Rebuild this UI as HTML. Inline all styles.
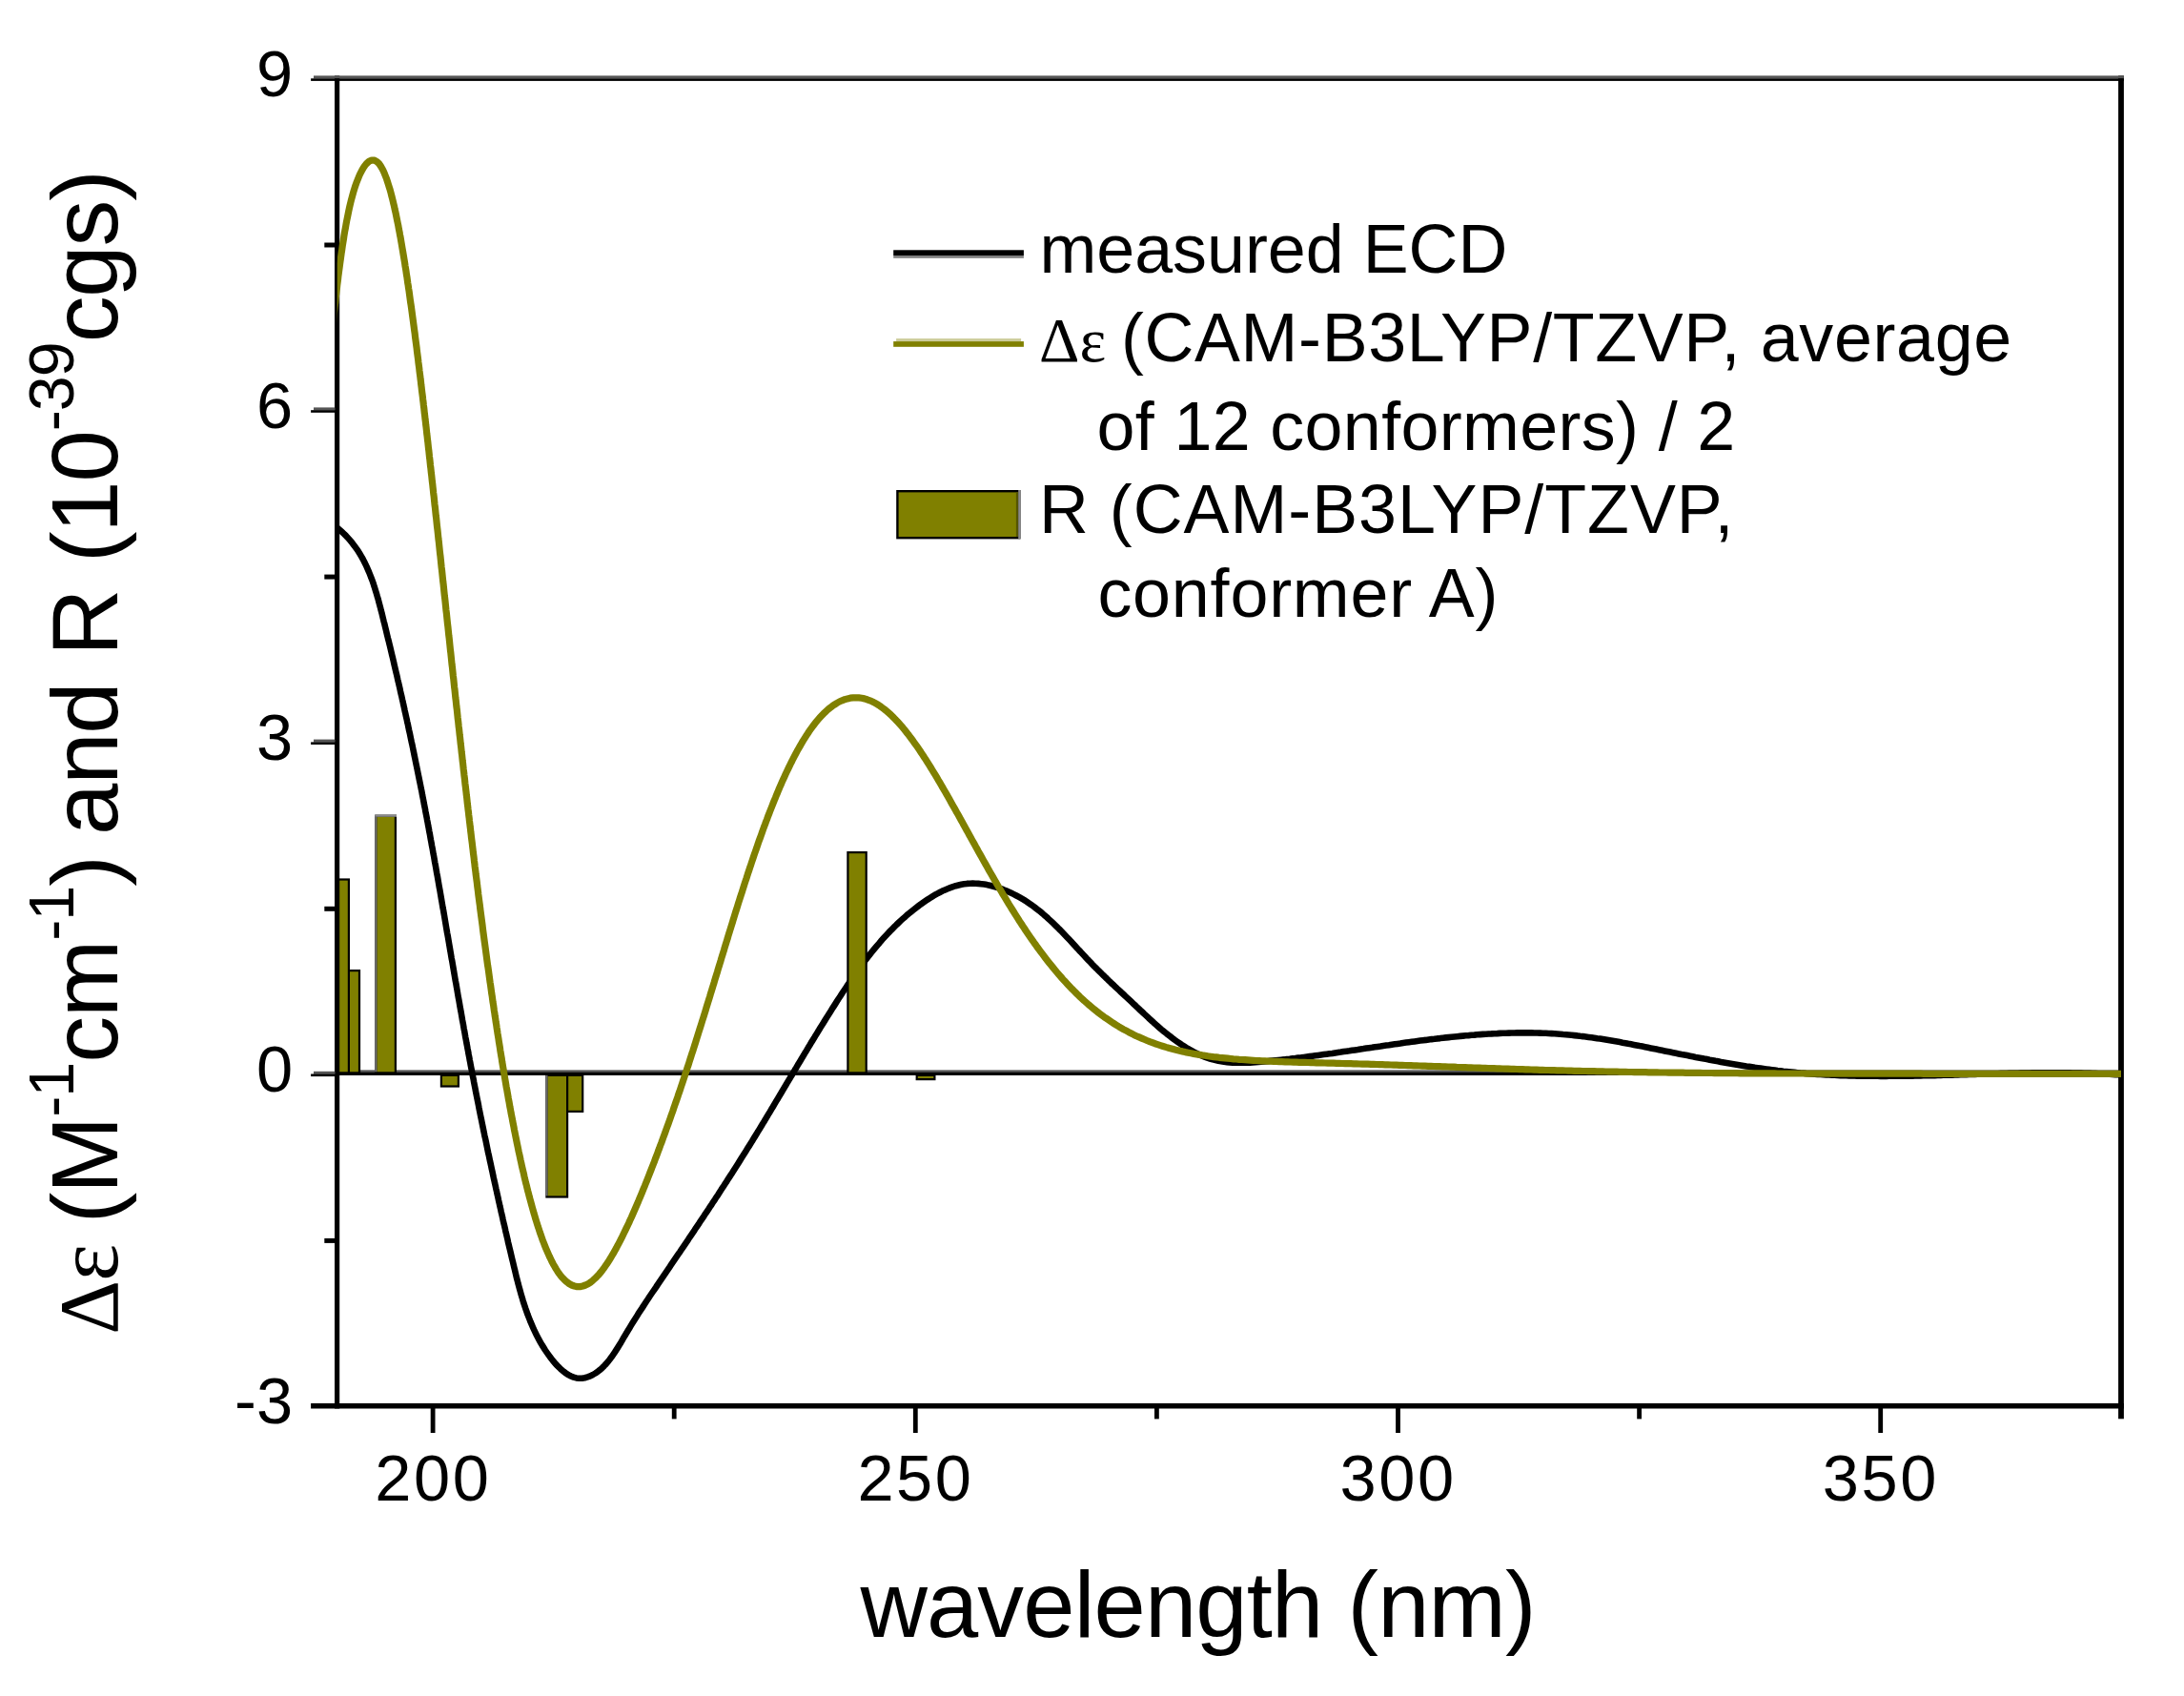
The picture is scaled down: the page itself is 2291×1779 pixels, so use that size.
<!DOCTYPE html><html><head><meta charset="utf-8"><title>ECD spectrum</title>
<style>html,body{margin:0;padding:0;background:#fff}svg{display:block}text{font-family:"Liberation Sans",sans-serif;fill:#000}.sy{font-family:"Liberation Serif",serif}</style></head><body>
<svg width="2291" height="1779" viewBox="0 0 2291 1779">
<rect width="2291" height="1779" fill="#fff"/>
<defs><clipPath id="pc"><rect x="353.7" y="82" width="1871.3" height="1392.7"/></clipPath></defs>
<rect x="353.7" y="1122.4" width="1871.3" height="2.4" fill="#555"/>
<path d="M347.4,548.3 L349.6,550.3 L351.9,552.2 L354.2,554.1 L356.5,556.1 L358.8,558.1 L361.0,560.1 L363.1,562.2 L365.1,564.4 L367.1,566.7 L369.1,569.0 L370.9,571.4 L372.7,573.8 L374.4,576.2 L376.1,578.7 L377.7,581.3 L379.2,583.9 L380.7,586.5 L382.1,589.2 L383.4,591.9 L384.7,594.6 L385.9,597.3 L387.1,600.1 L388.2,602.9 L389.3,605.7 L390.4,608.5 L391.4,611.3 L392.3,614.2 L393.2,617.0 L394.1,619.9 L395.0,622.8 L395.8,625.7 L396.7,628.6 L397.4,631.4 L398.2,634.4 L399.0,637.3 L399.7,640.2 L400.5,643.1 L401.2,646.0 L401.9,648.9 L402.6,651.8 L403.4,654.7 L404.1,657.7 L404.8,660.6 L405.5,663.5 L406.2,666.4 L406.9,669.3 L407.7,672.3 L408.4,675.2 L409.1,678.1 L409.8,681.0 L410.5,683.9 L411.2,686.9 L411.9,689.8 L412.6,692.7 L413.2,695.6 L413.9,698.6 L414.6,701.5 L415.3,704.4 L416.0,707.3 L416.7,710.3 L417.3,713.2 L418.0,716.1 L418.7,719.1 L419.4,722.0 L420.0,724.9 L420.7,727.9 L421.4,730.8 L422.0,733.7 L422.7,736.6 L423.3,739.6 L424.0,742.5 L424.6,745.4 L425.3,748.4 L425.9,751.3 L426.6,754.2 L427.2,757.2 L427.9,760.1 L428.5,763.1 L429.1,766.0 L429.8,768.9 L430.4,771.9 L431.0,774.8 L431.6,777.7 L432.3,780.7 L432.9,783.6 L433.5,786.6 L434.1,789.5 L434.7,792.5 L435.3,795.4 L435.9,798.3 L436.5,801.3 L437.1,804.2 L437.7,807.2 L438.3,810.1 L438.9,813.1 L439.5,816.0 L440.1,819.0 L440.7,821.9 L441.3,824.9 L441.9,827.8 L442.5,830.7 L443.0,833.7 L443.6,836.6 L444.2,839.6 L444.7,842.5 L445.3,845.5 L445.9,848.4 L446.4,851.4 L447.0,854.4 L447.6,857.3 L448.1,860.3 L448.7,863.2 L449.2,866.2 L449.8,869.1 L450.3,872.1 L450.9,875.0 L451.4,878.0 L451.9,880.9 L452.5,883.9 L453.0,886.9 L453.6,889.8 L454.1,892.8 L454.6,895.7 L455.2,898.7 L455.7,901.6 L456.2,904.6 L456.8,907.6 L457.3,910.5 L457.8,913.5 L458.3,916.4 L458.9,919.4 L459.4,922.4 L459.9,925.3 L460.4,928.3 L460.9,931.2 L461.5,934.2 L462.0,937.2 L462.5,940.1 L463.0,943.1 L463.5,946.0 L464.0,949.0 L464.5,952.0 L465.1,954.9 L465.6,957.9 L466.1,960.8 L466.6,963.8 L467.1,966.8 L467.6,969.7 L468.1,972.7 L468.6,975.6 L469.1,978.6 L469.7,981.6 L470.2,984.5 L470.7,987.5 L471.2,990.5 L471.7,993.4 L472.2,996.4 L472.7,999.3 L473.2,1002.3 L473.7,1005.3 L474.3,1008.2 L474.8,1011.2 L475.3,1014.1 L475.8,1017.1 L476.3,1020.1 L476.8,1023.0 L477.3,1026.0 L477.8,1028.9 L478.4,1031.9 L478.9,1034.9 L479.4,1037.8 L479.9,1040.8 L480.4,1043.7 L480.9,1046.7 L481.5,1049.7 L482.0,1052.6 L482.5,1055.6 L483.0,1058.5 L483.6,1061.5 L484.1,1064.5 L484.6,1067.4 L485.1,1070.4 L485.7,1073.3 L486.2,1076.3 L486.7,1079.3 L487.3,1082.2 L487.8,1085.2 L488.3,1088.1 L488.9,1091.1 L489.4,1094.0 L490.0,1097.0 L490.5,1099.9 L491.1,1102.9 L491.6,1105.9 L492.2,1108.8 L492.7,1111.8 L493.3,1114.7 L493.8,1117.7 L494.4,1120.6 L495.0,1123.6 L495.5,1126.5 L496.1,1129.5 L496.7,1132.4 L497.2,1135.4 L497.8,1138.3 L498.4,1141.3 L498.9,1144.2 L499.5,1147.2 L500.1,1150.1 L500.7,1153.1 L501.3,1156.0 L501.9,1159.0 L502.4,1161.9 L503.0,1164.9 L503.6,1167.8 L504.2,1170.8 L504.8,1173.7 L505.4,1176.6 L506.0,1179.6 L506.6,1182.5 L507.2,1185.5 L507.8,1188.4 L508.4,1191.4 L509.1,1194.3 L509.7,1197.2 L510.3,1200.2 L510.9,1203.1 L511.5,1206.1 L512.1,1209.0 L512.8,1211.9 L513.4,1214.9 L514.0,1217.8 L514.7,1220.8 L515.3,1223.7 L515.9,1226.6 L516.6,1229.6 L517.2,1232.5 L517.8,1235.4 L518.5,1238.4 L519.1,1241.3 L519.8,1244.3 L520.4,1247.2 L521.1,1250.1 L521.7,1253.1 L522.4,1256.0 L523.0,1258.9 L523.7,1261.9 L524.3,1264.8 L525.0,1267.7 L525.6,1270.7 L526.3,1273.6 L527.0,1276.5 L527.6,1279.4 L528.3,1282.4 L529.0,1285.3 L529.7,1288.2 L530.3,1291.2 L531.0,1294.1 L531.7,1297.0 L532.4,1299.9 L533.0,1302.9 L533.7,1305.8 L534.4,1308.7 L535.1,1311.6 L535.8,1314.6 L536.5,1317.5 L537.2,1320.4 L537.9,1323.3 L538.6,1326.3 L539.3,1329.2 L540.0,1332.1 L540.7,1335.0 L541.4,1337.9 L542.1,1340.9 L542.9,1343.8 L543.6,1346.7 L544.4,1349.6 L545.2,1352.5 L546.0,1355.4 L546.8,1358.3 L547.7,1361.2 L548.5,1364.0 L549.4,1366.9 L550.4,1369.8 L551.3,1372.6 L552.3,1375.4 L553.3,1378.3 L554.4,1381.1 L555.5,1383.9 L556.6,1386.7 L557.8,1389.4 L559.0,1392.2 L560.2,1394.9 L561.5,1397.6 L562.8,1400.3 L564.2,1403.0 L565.6,1405.6 L567.1,1408.3 L568.6,1410.9 L570.2,1413.4 L571.8,1416.0 L573.5,1418.5 L575.2,1420.9 L577.0,1423.4 L578.8,1425.7 L580.7,1428.1 L582.6,1430.4 L584.7,1432.6 L586.8,1434.7 L589.0,1436.8 L591.3,1438.7 L593.7,1440.5 L596.2,1442.1 L598.9,1443.5 L601.7,1444.6 L604.6,1445.4 L607.6,1445.8 L610.6,1445.7 L613.5,1445.2 L616.4,1444.4 L619.2,1443.4 L621.9,1442.0 L624.5,1440.5 L627.0,1438.8 L629.3,1436.9 L631.6,1434.9 L633.7,1432.8 L635.8,1430.6 L637.7,1428.3 L639.6,1426.0 L641.4,1423.6 L643.1,1421.1 L644.8,1418.6 L646.4,1416.1 L648.0,1413.6 L649.6,1411.0 L651.2,1408.4 L652.7,1405.8 L654.2,1403.2 L655.7,1400.7 L657.3,1398.1 L658.8,1395.5 L660.4,1392.9 L661.9,1390.4 L663.5,1387.8 L665.1,1385.2 L666.7,1382.7 L668.3,1380.2 L669.9,1377.6 L671.5,1375.1 L673.2,1372.6 L674.8,1370.1 L676.5,1367.5 L678.1,1365.0 L679.8,1362.5 L681.4,1360.0 L683.1,1357.5 L684.8,1355.0 L686.5,1352.6 L688.2,1350.1 L689.8,1347.6 L691.5,1345.1 L693.2,1342.6 L694.9,1340.1 L696.6,1337.6 L698.3,1335.1 L700.0,1332.7 L701.7,1330.2 L703.3,1327.7 L705.0,1325.2 L706.7,1322.7 L708.4,1320.2 L710.1,1317.7 L711.8,1315.2 L713.5,1312.8 L715.1,1310.3 L716.8,1307.8 L718.5,1305.3 L720.2,1302.8 L721.9,1300.3 L723.5,1297.8 L725.2,1295.3 L726.9,1292.8 L728.6,1290.3 L730.2,1287.8 L731.9,1285.3 L733.6,1282.8 L735.2,1280.3 L736.9,1277.8 L738.6,1275.3 L740.2,1272.8 L741.9,1270.3 L743.6,1267.8 L745.2,1265.3 L746.9,1262.8 L748.5,1260.3 L750.2,1257.8 L751.8,1255.3 L753.5,1252.8 L755.1,1250.2 L756.7,1247.7 L758.4,1245.2 L760.0,1242.7 L761.7,1240.2 L763.3,1237.6 L764.9,1235.1 L766.5,1232.6 L768.2,1230.1 L769.8,1227.5 L771.4,1225.0 L773.0,1222.5 L774.6,1219.9 L776.2,1217.4 L777.8,1214.8 L779.4,1212.3 L781.0,1209.7 L782.6,1207.2 L784.2,1204.6 L785.8,1202.1 L787.4,1199.5 L789.0,1197.0 L790.5,1194.4 L792.1,1191.9 L793.7,1189.3 L795.2,1186.7 L796.8,1184.2 L798.4,1181.6 L799.9,1179.0 L801.5,1176.5 L803.0,1173.9 L804.6,1171.3 L806.1,1168.7 L807.7,1166.2 L809.2,1163.6 L810.8,1161.0 L812.3,1158.4 L813.8,1155.8 L815.4,1153.3 L816.9,1150.7 L818.5,1148.1 L820.0,1145.5 L821.5,1142.9 L823.1,1140.3 L824.6,1137.8 L826.1,1135.2 L827.7,1132.6 L829.2,1130.0 L830.8,1127.4 L832.3,1124.9 L833.8,1122.3 L835.4,1119.7 L836.9,1117.1 L838.5,1114.5 L840.0,1112.0 L841.5,1109.4 L843.1,1106.8 L844.6,1104.2 L846.2,1101.7 L847.7,1099.1 L849.3,1096.5 L850.8,1093.9 L852.4,1091.4 L854.0,1088.8 L855.5,1086.2 L857.1,1083.7 L858.7,1081.1 L860.2,1078.5 L861.8,1076.0 L863.4,1073.4 L865.0,1070.9 L866.6,1068.3 L868.2,1065.8 L869.8,1063.2 L871.4,1060.7 L873.0,1058.1 L874.6,1055.6 L876.2,1053.1 L877.8,1050.5 L879.4,1048.0 L881.1,1045.5 L882.7,1043.0 L884.3,1040.5 L886.0,1038.0 L887.7,1035.5 L889.3,1033.0 L891.0,1030.5 L892.7,1028.0 L894.4,1025.5 L896.2,1023.1 L897.9,1020.6 L899.7,1018.2 L901.4,1015.7 L903.2,1013.3 L905.0,1010.9 L906.8,1008.5 L908.6,1006.1 L910.5,1003.7 L912.3,1001.4 L914.2,999.0 L916.1,996.7 L918.0,994.4 L919.9,992.1 L921.9,989.8 L923.8,987.5 L925.8,985.2 L927.8,983.0 L929.9,980.8 L931.9,978.6 L934.0,976.4 L936.1,974.3 L938.2,972.2 L940.4,970.0 L942.5,968.0 L944.7,965.9 L946.9,963.9 L949.2,961.9 L951.4,959.9 L953.7,958.0 L956.1,956.1 L958.4,954.2 L960.8,952.3 L963.2,950.5 L965.6,948.7 L968.0,947.0 L970.5,945.3 L973.0,943.6 L975.5,942.0 L978.1,940.4 L980.6,938.8 L983.3,937.4 L985.9,936.0 L988.6,934.6 L991.3,933.4 L994.1,932.2 L996.9,931.1 L999.7,930.1 L1002.6,929.2 L1005.5,928.5 L1008.5,927.8 L1011.4,927.3 L1014.4,926.9 L1017.4,926.7 L1020.4,926.6 L1023.4,926.7 L1026.4,926.9 L1029.4,927.2 L1032.4,927.6 L1035.3,928.1 L1038.3,928.8 L1041.2,929.5 L1044.1,930.3 L1046.9,931.2 L1049.8,932.2 L1052.6,933.2 L1055.4,934.3 L1058.1,935.5 L1060.9,936.8 L1063.6,938.1 L1066.3,939.5 L1068.9,940.9 L1071.5,942.4 L1074.1,943.9 L1076.6,945.5 L1079.1,947.2 L1081.6,948.9 L1084.0,950.7 L1086.4,952.5 L1088.8,954.3 L1091.2,956.2 L1093.5,958.1 L1095.7,960.1 L1098.0,962.0 L1100.2,964.1 L1102.4,966.1 L1104.6,968.2 L1106.8,970.3 L1108.9,972.4 L1111.0,974.5 L1113.2,976.6 L1115.2,978.8 L1117.3,981.0 L1119.4,983.2 L1121.4,985.3 L1123.5,987.5 L1125.5,989.7 L1127.6,992.0 L1129.6,994.2 L1131.6,996.4 L1133.7,998.6 L1135.7,1000.8 L1137.8,1003.0 L1139.8,1005.2 L1141.9,1007.4 L1144.0,1009.5 L1146.0,1011.7 L1148.1,1013.9 L1150.3,1016.0 L1152.4,1018.1 L1154.5,1020.2 L1156.7,1022.3 L1158.8,1024.4 L1161.0,1026.5 L1163.1,1028.6 L1165.3,1030.7 L1167.5,1032.7 L1169.7,1034.8 L1171.9,1036.9 L1174.1,1038.9 L1176.3,1041.0 L1178.5,1043.0 L1180.7,1045.1 L1182.9,1047.1 L1185.1,1049.2 L1187.2,1051.2 L1189.4,1053.3 L1191.6,1055.3 L1193.8,1057.4 L1196.0,1059.5 L1198.2,1061.5 L1200.4,1063.6 L1202.6,1065.6 L1204.8,1067.7 L1207.0,1069.7 L1209.2,1071.7 L1211.4,1073.8 L1213.7,1075.7 L1215.9,1077.7 L1218.2,1079.7 L1220.5,1081.6 L1222.9,1083.5 L1225.2,1085.4 L1227.6,1087.2 L1230.0,1089.1 L1232.4,1090.9 L1234.8,1092.6 L1237.3,1094.3 L1239.8,1096.0 L1242.3,1097.6 L1244.9,1099.2 L1247.4,1100.7 L1250.1,1102.2 L1252.7,1103.6 L1255.4,1105.0 L1258.1,1106.2 L1260.9,1107.4 L1263.7,1108.6 L1266.5,1109.6 L1269.3,1110.5 L1272.2,1111.4 L1275.1,1112.1 L1278.1,1112.8 L1281.0,1113.3 L1284.0,1113.8 L1287.0,1114.1 L1290.0,1114.4 L1293.0,1114.6 L1296.0,1114.7 L1299.0,1114.8 L1302.0,1114.8 L1305.0,1114.8 L1308.0,1114.7 L1311.0,1114.6 L1314.0,1114.4 L1317.0,1114.2 L1320.0,1114.0 L1323.0,1113.7 L1326.0,1113.5 L1329.0,1113.2 L1332.0,1112.9 L1334.9,1112.6 L1337.9,1112.3 L1340.9,1112.0 L1343.9,1111.7 L1346.9,1111.4 L1349.9,1111.0 L1352.9,1110.7 L1355.9,1110.3 L1358.8,1110.0 L1361.8,1109.6 L1364.8,1109.3 L1367.8,1108.9 L1370.8,1108.5 L1373.8,1108.1 L1376.7,1107.7 L1379.7,1107.3 L1382.7,1106.9 L1385.7,1106.5 L1388.6,1106.1 L1391.6,1105.7 L1394.6,1105.3 L1397.6,1104.9 L1400.5,1104.4 L1403.5,1104.0 L1406.5,1103.6 L1409.5,1103.1 L1412.4,1102.7 L1415.4,1102.3 L1418.4,1101.8 L1421.4,1101.4 L1424.3,1101.0 L1427.3,1100.5 L1430.3,1100.1 L1433.3,1099.6 L1436.2,1099.2 L1439.2,1098.8 L1442.2,1098.3 L1445.1,1097.9 L1448.1,1097.5 L1451.1,1097.0 L1454.1,1096.6 L1457.0,1096.2 L1460.0,1095.7 L1463.0,1095.3 L1466.0,1094.9 L1468.9,1094.5 L1471.9,1094.0 L1474.9,1093.6 L1477.9,1093.2 L1480.8,1092.8 L1483.8,1092.4 L1486.8,1092.0 L1489.8,1091.6 L1492.8,1091.2 L1495.7,1090.9 L1498.7,1090.5 L1501.7,1090.1 L1504.7,1089.8 L1507.7,1089.4 L1510.7,1089.1 L1513.6,1088.7 L1516.6,1088.4 L1519.6,1088.1 L1522.6,1087.8 L1525.6,1087.5 L1528.6,1087.2 L1531.6,1086.9 L1534.6,1086.6 L1537.6,1086.3 L1540.6,1086.1 L1543.6,1085.8 L1546.6,1085.6 L1549.5,1085.3 L1552.5,1085.1 L1555.5,1084.9 L1558.5,1084.7 L1561.5,1084.5 L1564.5,1084.4 L1567.5,1084.2 L1570.5,1084.1 L1573.5,1083.9 L1576.5,1083.8 L1579.6,1083.7 L1582.6,1083.6 L1585.6,1083.5 L1588.6,1083.5 L1591.6,1083.4 L1594.6,1083.4 L1597.6,1083.4 L1600.6,1083.4 L1603.6,1083.4 L1606.6,1083.4 L1609.6,1083.5 L1612.6,1083.5 L1615.6,1083.6 L1618.6,1083.7 L1621.6,1083.8 L1624.6,1084.0 L1627.6,1084.1 L1630.6,1084.3 L1633.6,1084.5 L1636.6,1084.7 L1639.6,1085.0 L1642.6,1085.2 L1645.6,1085.5 L1648.6,1085.8 L1651.6,1086.1 L1654.6,1086.4 L1657.5,1086.8 L1660.5,1087.1 L1663.5,1087.5 L1666.5,1087.9 L1669.5,1088.3 L1672.4,1088.7 L1675.4,1089.2 L1678.4,1089.6 L1681.4,1090.1 L1684.3,1090.6 L1687.3,1091.1 L1690.2,1091.6 L1693.2,1092.1 L1696.2,1092.6 L1699.1,1093.1 L1702.1,1093.7 L1705.0,1094.2 L1708.0,1094.8 L1710.9,1095.3 L1713.9,1095.9 L1716.8,1096.5 L1719.8,1097.1 L1722.7,1097.6 L1725.7,1098.2 L1728.6,1098.8 L1731.6,1099.4 L1734.5,1100.0 L1737.5,1100.6 L1740.4,1101.2 L1743.4,1101.8 L1746.3,1102.4 L1749.3,1103.0 L1752.2,1103.6 L1755.1,1104.2 L1758.1,1104.8 L1761.0,1105.4 L1764.0,1106.0 L1766.9,1106.5 L1769.9,1107.1 L1772.8,1107.7 L1775.8,1108.3 L1778.7,1108.9 L1781.7,1109.4 L1784.6,1110.0 L1787.6,1110.6 L1790.5,1111.1 L1793.5,1111.7 L1796.4,1112.2 L1799.4,1112.8 L1802.3,1113.3 L1805.3,1113.9 L1808.3,1114.4 L1811.2,1114.9 L1814.2,1115.4 L1817.1,1115.9 L1820.1,1116.4 L1823.1,1116.9 L1826.0,1117.4 L1829.0,1117.9 L1832.0,1118.4 L1834.9,1118.8 L1837.9,1119.3 L1840.9,1119.8 L1843.8,1120.2 L1846.8,1120.6 L1849.8,1121.0 L1852.8,1121.4 L1855.8,1121.8 L1858.7,1122.2 L1861.7,1122.6 L1864.7,1123.0 L1867.7,1123.3 L1870.7,1123.7 L1873.7,1124.0 L1876.6,1124.3 L1879.6,1124.6 L1882.6,1124.9 L1885.6,1125.2 L1888.6,1125.5 L1891.6,1125.7 L1894.6,1126.0 L1897.6,1126.2 L1900.6,1126.4 L1903.6,1126.7 L1906.6,1126.9 L1909.6,1127.0 L1912.6,1127.2 L1915.6,1127.4 L1918.6,1127.5 L1921.6,1127.7 L1924.6,1127.8 L1927.6,1128.0 L1930.6,1128.1 L1933.6,1128.2 L1936.6,1128.3 L1939.6,1128.4 L1942.6,1128.5 L1945.6,1128.5 L1948.6,1128.6 L1951.6,1128.7 L1954.6,1128.7 L1957.6,1128.7 L1960.6,1128.8 L1963.6,1128.8 L1966.6,1128.8 L1969.6,1128.8 L1972.7,1128.9 L1975.7,1128.9 L1978.7,1128.9 L1981.7,1128.8 L1984.7,1128.8 L1987.7,1128.8 L1990.7,1128.8 L1993.7,1128.8 L1996.7,1128.7 L1999.7,1128.7 L2002.7,1128.6 L2005.7,1128.6 L2008.7,1128.5 L2011.7,1128.5 L2014.7,1128.4 L2017.7,1128.3 L2020.7,1128.3 L2023.7,1128.2 L2026.7,1128.1 L2029.7,1128.1 L2032.7,1128.0 L2035.8,1127.9 L2038.8,1127.8 L2041.8,1127.7 L2044.8,1127.7 L2047.8,1127.6 L2050.8,1127.5 L2053.8,1127.4 L2056.8,1127.3 L2059.8,1127.2 L2062.8,1127.1 L2065.8,1127.0 L2068.8,1126.9 L2071.8,1126.9 L2074.8,1126.8 L2077.8,1126.7 L2080.8,1126.6 L2083.8,1126.5 L2086.8,1126.4 L2089.8,1126.3 L2092.8,1126.3 L2095.8,1126.2 L2098.8,1126.1 L2101.8,1126.0 L2104.8,1126.0 L2107.8,1125.9 L2110.8,1125.8 L2113.9,1125.8 L2116.9,1125.7 L2119.9,1125.6 L2122.9,1125.6 L2125.9,1125.5 L2128.9,1125.5 L2131.9,1125.4 L2134.9,1125.4 L2137.9,1125.4 L2140.9,1125.4 L2143.9,1125.3 L2146.9,1125.3 L2149.9,1125.3 L2152.9,1125.3 L2155.9,1125.3 L2158.9,1125.3 L2161.9,1125.3 L2164.9,1125.4 L2167.9,1125.4 L2170.9,1125.4 L2174.0,1125.5 L2177.0,1125.5 L2180.0,1125.6 L2183.0,1125.6 L2186.0,1125.7 L2189.0,1125.8 L2192.0,1125.9 L2195.0,1126.0 L2198.0,1126.1 L2201.0,1126.2 L2204.0,1126.4 L2207.0,1126.5 L2210.0,1126.6 L2213.0,1126.8 L2216.0,1127.0 L2219.0,1127.2 L2222.0,1127.3 L2225.0,1127.5" fill="none" stroke="#000" stroke-width="6.6" stroke-linejoin="round" clip-path="url(#pc)"/>
<g fill="#808000" stroke="#000" stroke-width="2.2">
<rect x="357.1" y="1018.1" width="19.9" height="107.5"/>
<rect x="352.1" y="922.5" width="13.8" height="203.1"/>
<rect x="394.3" y="855.7" width="20.6" height="269.9"/>
<rect x="462.9" y="1127.9" width="18.0" height="11.6"/>
<rect x="591.1" y="1127.9" width="20.1" height="38.0"/>
<rect x="573.4" y="1127.9" width="21.7" height="127.6"/>
<rect x="889.4" y="894.1" width="19.3" height="231.5"/>
<rect x="961.7" y="1127.9" width="18.7" height="4.2"/>
</g>
<rect x="393.2" y="856.8" width="2.2" height="267.8" fill="#6e6e6e"/><rect x="393.2" y="854.6" width="22.8" height="2.2" fill="#8c8c8c"/>
<rect x="572.3" y="1128" width="2.2" height="126.4" fill="#6e6e6e"/>
<rect x="353.7" y="1124.6" width="1871.3" height="3.4" fill="#000"/>
<g fill="#000">
<rect x="351" y="79.4" width="5.2" height="1398.1"/>
<rect x="2222.1" y="79.4" width="5.8" height="1408.9"/>
<rect x="329" y="79.4" width="1898.9" height="3" fill="#555"/>
<rect x="326.1" y="82.3" width="1901.8" height="2.6"/>
<rect x="326.1" y="1472" width="1901.8" height="5.5"/>
<rect x="329" y="427.4" width="22.5" height="3" fill="#555"/>
<rect x="326.1" y="430.2" width="25.4" height="2.6"/>
<rect x="329" y="775.6" width="22.5" height="3" fill="#555"/>
<rect x="326.1" y="778.4" width="25.4" height="2.6"/>
<rect x="329" y="1123.8" width="22.5" height="3" fill="#555"/>
<rect x="326.1" y="1126.5" width="25.4" height="2.6"/>
<rect x="340.3" y="254.5" width="11.2" height="5"/>
<rect x="340.3" y="602.6" width="11.2" height="5"/>
<rect x="340.3" y="950.8" width="11.2" height="5"/>
<rect x="340.3" y="1298.9" width="11.2" height="5"/>
<rect x="451.7" y="1477" width="4.8" height="26"/>
<rect x="957.9" y="1477" width="4.8" height="26"/>
<rect x="1464.1" y="1477" width="4.8" height="26"/>
<rect x="1970.3" y="1477" width="4.8" height="26"/>
<rect x="704.8" y="1477" width="4.8" height="11.4"/>
<rect x="1211.0" y="1477" width="4.8" height="11.4"/>
<rect x="1717.2" y="1477" width="4.8" height="11.4"/>
</g>
<path d="M347.0,361.2 L347.3,358.2 L347.6,355.2 L347.9,352.2 L348.2,349.2 L348.5,346.3 L348.8,343.3 L349.2,340.3 L349.5,337.3 L349.8,334.3 L350.1,331.3 L350.4,328.3 L350.8,325.3 L351.1,322.4 L351.4,319.4 L351.8,316.4 L352.1,313.4 L352.4,310.4 L352.8,307.4 L353.1,304.4 L353.5,301.5 L353.8,298.5 L354.2,295.5 L354.6,292.5 L354.9,289.5 L355.3,286.5 L355.7,283.6 L356.1,280.6 L356.5,277.6 L356.9,274.6 L357.3,271.7 L357.7,268.7 L358.1,265.7 L358.6,262.7 L359.0,259.8 L359.4,256.8 L359.9,253.8 L360.4,250.9 L360.8,247.9 L361.3,244.9 L361.8,242.0 L362.4,239.0 L362.9,236.0 L363.4,233.1 L364.0,230.1 L364.6,227.2 L365.2,224.2 L365.8,221.3 L366.4,218.4 L367.1,215.4 L367.8,212.5 L368.5,209.6 L369.3,206.7 L370.1,203.8 L370.9,200.9 L371.8,198.0 L372.7,195.2 L373.7,192.3 L374.8,189.5 L375.9,186.7 L377.0,184.0 L378.3,181.3 L379.7,178.6 L381.2,176.0 L382.9,173.5 L384.9,171.2 L387.1,169.3 L389.9,168.0 L392.8,168.2 L395.4,169.6 L397.6,171.7 L399.3,174.1 L400.8,176.7 L402.2,179.4 L403.4,182.2 L404.5,185.0 L405.6,187.8 L406.5,190.6 L407.4,193.5 L408.3,196.4 L409.2,199.2 L410.0,202.1 L410.7,205.0 L411.5,208.0 L412.2,210.9 L412.9,213.8 L413.6,216.7 L414.2,219.7 L414.9,222.6 L415.5,225.5 L416.1,228.5 L416.7,231.4 L417.3,234.4 L417.9,237.3 L418.4,240.3 L419.0,243.2 L419.5,246.2 L420.1,249.1 L420.6,252.1 L421.1,255.0 L421.6,258.0 L422.1,261.0 L422.6,263.9 L423.1,266.9 L423.6,269.9 L424.1,272.8 L424.6,275.8 L425.0,278.8 L425.5,281.7 L426.0,284.7 L426.4,287.7 L426.9,290.6 L427.3,293.6 L427.7,296.6 L428.2,299.5 L428.6,302.5 L429.1,305.5 L429.5,308.5 L429.9,311.4 L430.3,314.4 L430.7,317.4 L431.2,320.4 L431.6,323.3 L432.0,326.3 L432.4,329.3 L432.8,332.3 L433.2,335.2 L433.6,338.2 L434.0,341.2 L434.4,344.2 L434.8,347.2 L435.2,350.1 L435.5,353.1 L435.9,356.1 L436.3,359.1 L436.7,362.1 L437.1,365.0 L437.4,368.0 L437.8,371.0 L438.2,374.0 L438.6,377.0 L438.9,379.9 L439.3,382.9 L439.7,385.9 L440.0,388.9 L440.4,391.9 L440.8,394.9 L441.1,397.8 L441.5,400.8 L441.8,403.8 L442.2,406.8 L442.5,409.8 L442.9,412.8 L443.3,415.7 L443.6,418.7 L444.0,421.7 L444.3,424.7 L444.7,427.7 L445.0,430.7 L445.3,433.6 L445.7,436.6 L446.0,439.6 L446.4,442.6 L446.7,445.6 L447.1,448.6 L447.4,451.5 L447.7,454.5 L448.1,457.5 L448.4,460.5 L448.8,463.5 L449.1,466.5 L449.4,469.5 L449.8,472.4 L450.1,475.4 L450.4,478.4 L450.8,481.4 L451.1,484.4 L451.4,487.4 L451.8,490.4 L452.1,493.3 L452.4,496.3 L452.8,499.3 L453.1,502.3 L453.4,505.3 L453.8,508.3 L454.1,511.3 L454.4,514.2 L454.7,517.2 L455.1,520.2 L455.4,523.2 L455.7,526.2 L456.0,529.2 L456.4,532.2 L456.7,535.2 L457.0,538.1 L457.3,541.1 L457.7,544.1 L458.0,547.1 L458.3,550.1 L458.6,553.1 L459.0,556.1 L459.3,559.0 L459.6,562.0 L459.9,565.0 L460.3,568.0 L460.6,571.0 L460.9,574.0 L461.2,577.0 L461.5,580.0 L461.9,582.9 L462.2,585.9 L462.5,588.9 L462.8,591.9 L463.1,594.9 L463.5,597.9 L463.8,600.9 L464.1,603.9 L464.4,606.8 L464.7,609.8 L465.1,612.8 L465.4,615.8 L465.7,618.8 L466.0,621.8 L466.3,624.8 L466.7,627.8 L467.0,630.7 L467.3,633.7 L467.6,636.7 L467.9,639.7 L468.3,642.7 L468.6,645.7 L468.9,648.7 L469.2,651.7 L469.5,654.6 L469.9,657.6 L470.2,660.6 L470.5,663.6 L470.8,666.6 L471.2,669.6 L471.5,672.6 L471.8,675.5 L472.1,678.5 L472.4,681.5 L472.8,684.5 L473.1,687.5 L473.4,690.5 L473.7,693.5 L474.0,696.5 L474.4,699.4 L474.7,702.4 L475.0,705.4 L475.3,708.4 L475.7,711.4 L476.0,714.4 L476.3,717.4 L476.6,720.4 L477.0,723.3 L477.3,726.3 L477.6,729.3 L477.9,732.3 L478.3,735.3 L478.6,738.3 L478.9,741.3 L479.3,744.2 L479.6,747.2 L479.9,750.2 L480.2,753.2 L480.6,756.2 L480.9,759.2 L481.2,762.2 L481.6,765.1 L481.9,768.1 L482.2,771.1 L482.6,774.1 L482.9,777.1 L483.2,780.1 L483.6,783.1 L483.9,786.0 L484.2,789.0 L484.6,792.0 L484.9,795.0 L485.2,798.0 L485.6,801.0 L485.9,804.0 L486.2,806.9 L486.6,809.9 L486.9,812.9 L487.3,815.9 L487.6,818.9 L487.9,821.9 L488.3,824.9 L488.6,827.8 L489.0,830.8 L489.3,833.8 L489.7,836.8 L490.0,839.8 L490.3,842.8 L490.7,845.8 L491.0,848.7 L491.4,851.7 L491.7,854.7 L492.1,857.7 L492.4,860.7 L492.8,863.7 L493.1,866.6 L493.5,869.6 L493.8,872.6 L494.2,875.6 L494.5,878.6 L494.9,881.6 L495.3,884.5 L495.6,887.5 L496.0,890.5 L496.3,893.5 L496.7,896.5 L497.1,899.5 L497.4,902.4 L497.8,905.4 L498.1,908.4 L498.5,911.4 L498.9,914.4 L499.2,917.3 L499.6,920.3 L500.0,923.3 L500.4,926.3 L500.7,929.3 L501.1,932.3 L501.5,935.2 L501.8,938.2 L502.2,941.2 L502.6,944.2 L503.0,947.2 L503.4,950.1 L503.7,953.1 L504.1,956.1 L504.5,959.1 L504.9,962.1 L505.3,965.0 L505.7,968.0 L506.1,971.0 L506.4,974.0 L506.8,977.0 L507.2,979.9 L507.6,982.9 L508.0,985.9 L508.4,988.9 L508.8,991.8 L509.2,994.8 L509.6,997.8 L510.0,1000.8 L510.4,1003.8 L510.8,1006.7 L511.2,1009.7 L511.6,1012.7 L512.1,1015.7 L512.5,1018.6 L512.9,1021.6 L513.3,1024.6 L513.7,1027.6 L514.1,1030.5 L514.6,1033.5 L515.0,1036.5 L515.4,1039.5 L515.8,1042.4 L516.3,1045.4 L516.7,1048.4 L517.1,1051.4 L517.6,1054.3 L518.0,1057.3 L518.4,1060.3 L518.9,1063.2 L519.3,1066.2 L519.8,1069.2 L520.2,1072.2 L520.7,1075.1 L521.1,1078.1 L521.6,1081.1 L522.0,1084.0 L522.5,1087.0 L523.0,1090.0 L523.4,1092.9 L523.9,1095.9 L524.4,1098.9 L524.8,1101.8 L525.3,1104.8 L525.8,1107.8 L526.3,1110.7 L526.7,1113.7 L527.2,1116.7 L527.7,1119.6 L528.2,1122.6 L528.7,1125.6 L529.2,1128.5 L529.7,1131.5 L530.2,1134.4 L530.7,1137.4 L531.2,1140.4 L531.8,1143.3 L532.3,1146.3 L532.8,1149.2 L533.3,1152.2 L533.9,1155.2 L534.4,1158.1 L534.9,1161.1 L535.5,1164.0 L536.0,1167.0 L536.6,1169.9 L537.2,1172.9 L537.7,1175.8 L538.3,1178.8 L538.9,1181.7 L539.4,1184.7 L540.0,1187.6 L540.6,1190.6 L541.2,1193.5 L541.8,1196.5 L542.4,1199.4 L543.0,1202.3 L543.6,1205.3 L544.2,1208.2 L544.9,1211.2 L545.5,1214.1 L546.1,1217.0 L546.8,1220.0 L547.4,1222.9 L548.1,1225.8 L548.8,1228.8 L549.5,1231.7 L550.1,1234.6 L550.8,1237.5 L551.5,1240.5 L552.3,1243.4 L553.0,1246.3 L553.7,1249.2 L554.5,1252.1 L555.2,1255.0 L556.0,1257.9 L556.8,1260.8 L557.6,1263.7 L558.4,1266.6 L559.2,1269.5 L560.0,1272.4 L560.9,1275.3 L561.7,1278.2 L562.6,1281.0 L563.5,1283.9 L564.4,1286.8 L565.4,1289.6 L566.3,1292.5 L567.3,1295.3 L568.3,1298.1 L569.3,1301.0 L570.4,1303.8 L571.5,1306.6 L572.6,1309.3 L573.8,1312.1 L575.0,1314.9 L576.2,1317.6 L577.5,1320.3 L578.8,1323.0 L580.2,1325.7 L581.7,1328.3 L583.2,1330.9 L584.8,1333.4 L586.5,1335.9 L588.3,1338.3 L590.3,1340.6 L592.4,1342.8 L594.6,1344.7 L597.0,1346.5 L599.7,1348.0 L602.5,1349.0 L605.4,1349.6 L608.4,1349.6 L611.4,1349.0 L614.2,1348.0 L616.9,1346.7 L619.4,1345.1 L621.8,1343.2 L624.0,1341.2 L626.1,1339.1 L628.2,1336.9 L630.1,1334.6 L632.0,1332.2 L633.8,1329.8 L635.5,1327.3 L637.2,1324.9 L638.8,1322.3 L640.4,1319.8 L641.9,1317.2 L643.5,1314.6 L644.9,1312.0 L646.4,1309.4 L647.8,1306.7 L649.2,1304.1 L650.6,1301.4 L652.0,1298.7 L653.3,1296.0 L654.6,1293.3 L655.9,1290.6 L657.2,1287.9 L658.5,1285.2 L659.8,1282.5 L661.0,1279.7 L662.3,1277.0 L663.5,1274.3 L664.7,1271.5 L665.9,1268.8 L667.1,1266.0 L668.3,1263.3 L669.5,1260.5 L670.6,1257.7 L671.8,1255.0 L673.0,1252.2 L674.1,1249.4 L675.2,1246.6 L676.4,1243.8 L677.5,1241.0 L678.6,1238.3 L679.7,1235.5 L680.8,1232.7 L681.9,1229.9 L683.0,1227.1 L684.1,1224.3 L685.2,1221.5 L686.3,1218.7 L687.3,1215.9 L688.4,1213.1 L689.5,1210.3 L690.5,1207.4 L691.6,1204.6 L692.6,1201.8 L693.7,1199.0 L694.7,1196.2 L695.7,1193.4 L696.8,1190.5 L697.8,1187.7 L698.8,1184.9 L699.8,1182.1 L700.9,1179.2 L701.9,1176.4 L702.9,1173.6 L703.9,1170.7 L704.9,1167.9 L705.9,1165.1 L706.8,1162.2 L707.8,1159.4 L708.8,1156.5 L709.8,1153.7 L710.8,1150.9 L711.7,1148.0 L712.7,1145.2 L713.7,1142.3 L714.6,1139.5 L715.6,1136.6 L716.5,1133.8 L717.5,1130.9 L718.4,1128.1 L719.3,1125.2 L720.3,1122.4 L721.2,1119.5 L722.2,1116.7 L723.1,1113.8 L724.0,1110.9 L724.9,1108.1 L725.8,1105.2 L726.8,1102.4 L727.7,1099.5 L728.6,1096.6 L729.5,1093.8 L730.4,1090.9 L731.3,1088.0 L732.2,1085.2 L733.1,1082.3 L734.0,1079.4 L734.9,1076.6 L735.8,1073.7 L736.7,1070.8 L737.6,1068.0 L738.5,1065.1 L739.4,1062.2 L740.3,1059.4 L741.1,1056.5 L742.0,1053.6 L742.9,1050.7 L743.8,1047.9 L744.7,1045.0 L745.5,1042.1 L746.4,1039.3 L747.3,1036.4 L748.2,1033.5 L749.1,1030.6 L749.9,1027.8 L750.8,1024.9 L751.7,1022.0 L752.6,1019.1 L753.4,1016.3 L754.3,1013.4 L755.2,1010.5 L756.1,1007.6 L756.9,1004.8 L757.8,1001.9 L758.7,999.0 L759.6,996.1 L760.4,993.3 L761.3,990.4 L762.2,987.5 L763.1,984.7 L763.9,981.8 L764.8,978.9 L765.7,976.0 L766.6,973.2 L767.5,970.3 L768.4,967.4 L769.2,964.6 L770.1,961.7 L771.0,958.8 L771.9,955.9 L772.8,953.1 L773.7,950.2 L774.6,947.3 L775.5,944.5 L776.4,941.6 L777.3,938.8 L778.3,935.9 L779.2,933.0 L780.1,930.2 L781.0,927.3 L781.9,924.5 L782.9,921.6 L783.8,918.7 L784.7,915.9 L785.7,913.0 L786.6,910.2 L787.6,907.3 L788.5,904.5 L789.5,901.6 L790.4,898.8 L791.4,895.9 L792.4,893.1 L793.4,890.3 L794.4,887.4 L795.3,884.6 L796.3,881.8 L797.4,878.9 L798.4,876.1 L799.4,873.3 L800.4,870.4 L801.4,867.6 L802.5,864.8 L803.5,862.0 L804.6,859.2 L805.6,856.4 L806.7,853.6 L807.8,850.8 L808.9,848.0 L810.0,845.2 L811.1,842.4 L812.2,839.6 L813.4,836.8 L814.5,834.0 L815.7,831.3 L816.8,828.5 L818.0,825.7 L819.2,823.0 L820.4,820.2 L821.6,817.5 L822.9,814.7 L824.1,812.0 L825.4,809.3 L826.7,806.6 L828.0,803.9 L829.3,801.2 L830.7,798.5 L832.0,795.8 L833.4,793.1 L834.8,790.5 L836.2,787.8 L837.7,785.2 L839.2,782.6 L840.7,780.0 L842.2,777.4 L843.8,774.9 L845.4,772.3 L847.1,769.8 L848.7,767.3 L850.4,764.8 L852.2,762.4 L854.0,760.0 L855.9,757.6 L857.8,755.3 L859.7,753.0 L861.8,750.8 L863.8,748.7 L866.0,746.6 L868.2,744.5 L870.5,742.6 L872.9,740.8 L875.4,739.1 L877.9,737.5 L880.5,736.0 L883.3,734.8 L886.1,733.7 L889.0,732.9 L891.9,732.2 L894.9,731.9 L897.9,731.8 L900.9,731.9 L903.9,732.3 L906.8,732.9 L909.7,733.8 L912.5,734.8 L915.2,736.0 L917.9,737.4 L920.5,738.9 L923.0,740.5 L925.5,742.3 L927.9,744.1 L930.2,746.0 L932.5,748.0 L934.7,750.0 L936.8,752.1 L938.9,754.2 L941.0,756.4 L943.0,758.7 L945.0,760.9 L947.0,763.2 L948.9,765.5 L950.7,767.9 L952.6,770.2 L954.4,772.6 L956.2,775.0 L958.0,777.4 L959.7,779.9 L961.5,782.3 L963.2,784.8 L964.9,787.3 L966.5,789.8 L968.2,792.3 L969.8,794.8 L971.5,797.3 L973.1,799.9 L974.7,802.4 L976.3,805.0 L977.8,807.5 L979.4,810.1 L981.0,812.7 L982.5,815.2 L984.0,817.8 L985.6,820.4 L987.1,823.0 L988.6,825.6 L990.1,828.2 L991.6,830.8 L993.1,833.4 L994.6,836.0 L996.1,838.6 L997.5,841.2 L999.0,843.9 L1000.5,846.5 L1002.0,849.1 L1003.4,851.7 L1004.9,854.3 L1006.4,857.0 L1007.8,859.6 L1009.3,862.2 L1010.7,864.9 L1012.2,867.5 L1013.6,870.1 L1015.1,872.7 L1016.5,875.4 L1018.0,878.0 L1019.4,880.6 L1020.9,883.3 L1022.4,885.9 L1023.8,888.5 L1025.3,891.1 L1026.7,893.8 L1028.2,896.4 L1029.7,899.0 L1031.1,901.6 L1032.6,904.3 L1034.1,906.9 L1035.6,909.5 L1037.0,912.1 L1038.5,914.7 L1040.0,917.3 L1041.5,919.9 L1043.0,922.5 L1044.5,925.1 L1046.0,927.7 L1047.5,930.3 L1049.1,932.9 L1050.6,935.5 L1052.1,938.1 L1053.7,940.7 L1055.2,943.2 L1056.8,945.8 L1058.3,948.4 L1059.9,950.9 L1061.5,953.5 L1063.1,956.0 L1064.7,958.6 L1066.3,961.1 L1067.9,963.7 L1069.5,966.2 L1071.2,968.7 L1072.8,971.2 L1074.5,973.7 L1076.1,976.2 L1077.8,978.7 L1079.5,981.2 L1081.2,983.7 L1082.9,986.1 L1084.6,988.6 L1086.4,991.0 L1088.1,993.5 L1089.9,995.9 L1091.7,998.3 L1093.5,1000.7 L1095.3,1003.1 L1097.1,1005.5 L1099.0,1007.9 L1100.8,1010.2 L1102.7,1012.6 L1104.6,1014.9 L1106.5,1017.2 L1108.4,1019.5 L1110.4,1021.8 L1112.4,1024.1 L1114.3,1026.4 L1116.3,1028.6 L1118.4,1030.8 L1120.4,1033.0 L1122.5,1035.2 L1124.6,1037.4 L1126.7,1039.5 L1128.8,1041.6 L1130.9,1043.7 L1133.1,1045.8 L1135.3,1047.8 L1137.5,1049.9 L1139.8,1051.9 L1142.0,1053.9 L1144.3,1055.8 L1146.6,1057.7 L1149.0,1059.6 L1151.3,1061.5 L1153.7,1063.3 L1156.1,1065.1 L1158.5,1066.9 L1161.0,1068.6 L1163.5,1070.3 L1166.0,1072.0 L1168.5,1073.6 L1171.0,1075.2 L1173.6,1076.8 L1176.2,1078.3 L1178.8,1079.8 L1181.4,1081.2 L1184.1,1082.7 L1186.7,1084.0 L1189.4,1085.4 L1192.1,1086.7 L1194.9,1087.9 L1197.6,1089.1 L1200.4,1090.3 L1203.2,1091.5 L1206.0,1092.6 L1208.8,1093.6 L1211.6,1094.7 L1214.4,1095.6 L1217.3,1096.6 L1220.1,1097.5 L1223.0,1098.4 L1225.9,1099.2 L1228.8,1100.0 L1231.7,1100.8 L1234.6,1101.6 L1237.5,1102.3 L1240.4,1102.9 L1243.4,1103.6 L1246.3,1104.2 L1249.3,1104.8 L1252.2,1105.4 L1255.2,1105.9 L1258.1,1106.4 L1261.1,1106.9 L1264.1,1107.3 L1267.0,1107.8 L1270.0,1108.2 L1273.0,1108.6 L1276.0,1108.9 L1279.0,1109.3 L1282.0,1109.6 L1284.9,1109.9 L1287.9,1110.2 L1290.9,1110.5 L1293.9,1110.8 L1296.9,1111.0 L1299.9,1111.3 L1302.9,1111.5 L1305.9,1111.7 L1308.9,1111.9 L1311.9,1112.1 L1314.9,1112.3 L1317.9,1112.5 L1320.9,1112.6 L1323.9,1112.8 L1326.9,1112.9 L1329.9,1113.1 L1332.9,1113.2 L1335.9,1113.3 L1338.9,1113.4 L1341.9,1113.6 L1344.9,1113.7 L1347.9,1113.8 L1350.9,1113.9 L1353.9,1114.0 L1356.9,1114.1 L1359.9,1114.2 L1362.9,1114.3 L1365.9,1114.4 L1368.9,1114.4 L1371.9,1114.5 L1374.9,1114.6 L1377.9,1114.7 L1380.9,1114.8 L1383.9,1114.9 L1386.9,1114.9 L1389.9,1115.0 L1392.9,1115.1 L1396.0,1115.2 L1399.0,1115.2 L1402.0,1115.3 L1405.0,1115.4 L1408.0,1115.5 L1411.0,1115.6 L1414.0,1115.7 L1417.0,1115.7 L1420.0,1115.8 L1423.0,1115.9 L1426.0,1116.0 L1429.0,1116.1 L1432.0,1116.2 L1435.0,1116.2 L1438.0,1116.3 L1441.0,1116.4 L1444.0,1116.5 L1447.0,1116.6 L1450.0,1116.7 L1453.0,1116.8 L1456.0,1116.9 L1459.0,1117.0 L1462.0,1117.1 L1465.0,1117.2 L1468.0,1117.3 L1471.0,1117.4 L1474.0,1117.5 L1477.0,1117.6 L1480.0,1117.7 L1483.0,1117.8 L1486.0,1117.9 L1489.0,1118.0 L1492.0,1118.1 L1495.0,1118.2 L1498.1,1118.3 L1501.1,1118.4 L1504.1,1118.5 L1507.1,1118.6 L1510.1,1118.7 L1513.1,1118.8 L1516.1,1118.9 L1519.1,1119.0 L1522.1,1119.1 L1525.1,1119.2 L1528.1,1119.4 L1531.1,1119.5 L1534.1,1119.6 L1537.1,1119.7 L1540.1,1119.8 L1543.1,1119.9 L1546.1,1120.0 L1549.1,1120.1 L1552.1,1120.2 L1555.1,1120.3 L1558.1,1120.4 L1561.1,1120.5 L1564.1,1120.6 L1567.1,1120.7 L1570.1,1120.8 L1573.1,1120.9 L1576.1,1121.0 L1579.1,1121.1 L1582.1,1121.2 L1585.1,1121.3 L1588.1,1121.4 L1591.1,1121.5 L1594.1,1121.6 L1597.1,1121.7 L1600.1,1121.8 L1603.1,1121.9 L1606.1,1122.0 L1609.1,1122.1 L1612.1,1122.2 L1615.2,1122.3 L1618.2,1122.4 L1621.2,1122.5 L1624.2,1122.5 L1627.2,1122.6 L1630.2,1122.7 L1633.2,1122.8 L1636.2,1122.9 L1639.2,1122.9 L1642.2,1123.0 L1645.2,1123.1 L1648.2,1123.2 L1651.2,1123.3 L1654.2,1123.3 L1657.2,1123.4 L1660.2,1123.5 L1663.2,1123.5 L1666.2,1123.6 L1669.2,1123.7 L1672.2,1123.7 L1675.2,1123.8 L1678.2,1123.9 L1681.2,1123.9 L1684.2,1124.0 L1687.2,1124.1 L1690.2,1124.1 L1693.2,1124.2 L1696.2,1124.2 L1699.2,1124.3 L1702.3,1124.3 L1705.3,1124.4 L1708.3,1124.5 L1711.3,1124.5 L1714.3,1124.6 L1717.3,1124.6 L1720.3,1124.7 L1723.3,1124.7 L1726.3,1124.7 L1729.3,1124.8 L1732.3,1124.8 L1735.3,1124.9 L1738.3,1124.9 L1741.3,1125.0 L1744.3,1125.0 L1747.3,1125.0 L1750.3,1125.1 L1753.3,1125.1 L1756.3,1125.1 L1759.3,1125.2 L1762.3,1125.2 L1765.3,1125.2 L1768.3,1125.3 L1771.3,1125.3 L1774.4,1125.3 L1777.4,1125.4 L1780.4,1125.4 L1783.4,1125.4 L1786.4,1125.5 L1789.4,1125.5 L1792.4,1125.5 L1795.4,1125.5 L1798.4,1125.6 L1801.4,1125.6 L1804.4,1125.6 L1807.4,1125.6 L1810.4,1125.7 L1813.4,1125.7 L1816.4,1125.7 L1819.4,1125.7 L1822.4,1125.7 L1825.4,1125.8 L1828.4,1125.8 L1831.4,1125.8 L1834.4,1125.8 L1837.4,1125.8 L1840.4,1125.8 L1843.4,1125.9 L1846.5,1125.9 L1849.5,1125.9 L1852.5,1125.9 L1855.5,1125.9 L1858.5,1125.9 L1861.5,1125.9 L1864.5,1126.0 L1867.5,1126.0 L1870.5,1126.0 L1873.5,1126.0 L1876.5,1126.0 L1879.5,1126.0 L1882.5,1126.0 L1885.5,1126.0 L1888.5,1126.0 L1891.5,1126.0 L1894.5,1126.1 L1897.5,1126.1 L1900.5,1126.1 L1903.5,1126.1 L1906.5,1126.1 L1909.5,1126.1 L1912.5,1126.1 L1915.6,1126.1 L1918.6,1126.1 L1921.6,1126.1 L1924.6,1126.1 L1927.6,1126.1 L1930.6,1126.1 L1933.6,1126.2 L1936.6,1126.2 L1939.6,1126.2 L1942.6,1126.2 L1945.6,1126.2 L1948.6,1126.2 L1951.6,1126.2 L1954.6,1126.2 L1957.6,1126.2 L1960.6,1126.2 L1963.6,1126.2 L1966.6,1126.2 L1969.6,1126.2 L1972.6,1126.2 L1975.6,1126.2 L1978.6,1126.2 L1981.6,1126.2 L1984.7,1126.2 L1987.7,1126.2 L1990.7,1126.2 L1993.7,1126.2 L1996.7,1126.2 L1999.7,1126.2 L2002.7,1126.2 L2005.7,1126.2 L2008.7,1126.2 L2011.7,1126.2 L2014.7,1126.2 L2017.7,1126.3 L2020.7,1126.3 L2023.7,1126.3 L2026.7,1126.3 L2029.7,1126.3 L2032.7,1126.3 L2035.7,1126.3 L2038.7,1126.3 L2041.7,1126.3 L2044.7,1126.3 L2047.7,1126.3 L2050.7,1126.3 L2053.8,1126.3 L2056.8,1126.3 L2059.8,1126.3 L2062.8,1126.3 L2065.8,1126.3 L2068.8,1126.3 L2071.8,1126.3 L2074.8,1126.3 L2077.8,1126.3 L2080.8,1126.3 L2083.8,1126.3 L2086.8,1126.3 L2089.8,1126.3 L2092.8,1126.3 L2095.8,1126.3 L2098.8,1126.3 L2101.8,1126.3 L2104.8,1126.3 L2107.8,1126.3 L2110.8,1126.3 L2113.8,1126.3 L2116.8,1126.3 L2119.8,1126.3 L2122.9,1126.3 L2125.9,1126.3 L2128.9,1126.3 L2131.9,1126.3 L2134.9,1126.3 L2137.9,1126.3 L2140.9,1126.3 L2143.9,1126.3 L2146.9,1126.3 L2149.9,1126.3 L2152.9,1126.3 L2155.9,1126.3 L2158.9,1126.3 L2161.9,1126.3 L2164.9,1126.3 L2167.9,1126.3 L2170.9,1126.3 L2173.9,1126.3 L2176.9,1126.3 L2179.9,1126.3 L2182.9,1126.3 L2185.9,1126.3 L2188.9,1126.3 L2192.0,1126.3 L2195.0,1126.3 L2198.0,1126.3 L2201.0,1126.3 L2204.0,1126.3 L2207.0,1126.3 L2210.0,1126.3 L2213.0,1126.3 L2216.0,1126.3 L2219.0,1126.3 L2222.0,1126.3 L2225.0,1126.3" fill="none" stroke="#808000" stroke-width="7.2" stroke-linejoin="round" clip-path="url(#pc)"/>
<g font-size="68.6">
<text x="393.2" y="1573.6" textLength="119.6" lengthAdjust="spacing">200</text>
<text x="899.4" y="1573.6" textLength="119.6" lengthAdjust="spacing">250</text>
<text x="1405.6" y="1573.6" textLength="119.6" lengthAdjust="spacing">300</text>
<text x="1911.8" y="1573.6" textLength="119.6" lengthAdjust="spacing">350</text>
<text x="307.1" y="100.6" text-anchor="end">9</text>
<text x="307.1" y="448.8" text-anchor="end">6</text>
<text x="307.1" y="796.9" text-anchor="end">3</text>
<text x="307.1" y="1145.0" text-anchor="end">0</text>
<text x="307.1" y="1493.2" text-anchor="end">-3</text>
</g>
<text x="902.4" y="1717.2" font-size="97.5" textLength="709" lengthAdjust="spacing">wavelength (nm)</text>
<g font-size="97.5" letter-spacing="-1.05" word-spacing="-3.6">
<text transform="translate(123.4,1399.7) rotate(-90)"><tspan class="sy" font-size="88.5">Δ</tspan><tspan class="sy" font-size="93">ε</tspan> (M<tspan font-size="66.5" dy="-46.6">-1</tspan><tspan dy="46.6">cm</tspan><tspan font-size="66.5" dy="-46.6">-1</tspan><tspan dy="46.6">) and</tspan></text>
<text transform="translate(123.4,688.0) rotate(-90)">R</text>
<text transform="translate(123.4,590.1) rotate(-90)">(10<tspan font-size="66.5" dy="-46.6">-39</tspan><tspan dy="46.6">cgs)</tspan></text>
</g>
<rect x="937.2" y="262.3" width="136.7" height="5.7" fill="#000"/><rect x="937.2" y="268" width="136.7" height="2.8" fill="#808080"/>
<rect x="940.1" y="355.1" width="131" height="3" fill="#cccc99"/><rect x="937.2" y="358.1" width="136.7" height="5.7" fill="#808000"/>
<rect x="941.4" y="515.2" width="127.9" height="49" fill="#808000" stroke="#000" stroke-width="2.4"/>
<rect x="1065.9" y="516.4" width="2.3" height="46.6" fill="#555500"/><rect x="1068.2" y="514" width="2.3" height="51.4" fill="#8a8a8a"/>
<g font-size="71.8">
<text x="1090.4" y="286.3" textLength="490.9" lengthAdjust="spacing">measured ECD</text>
<text class="sy" x="1090" y="379.2" font-size="66">Δε</text>
<text x="1176" y="379.2" textLength="934.2" lengthAdjust="spacing">(CAM-B3LYP/TZVP, average</text>
<text x="1150.5" y="471.8" textLength="669.7" lengthAdjust="spacing">of 12 conformers) / 2</text>
<text x="1090" y="559.2" textLength="728.4" lengthAdjust="spacing">R (CAM-B3LYP/TZVP,</text>
<text x="1151.4" y="647" textLength="420" lengthAdjust="spacing">conformer A)</text>
</g>
</svg></body></html>
